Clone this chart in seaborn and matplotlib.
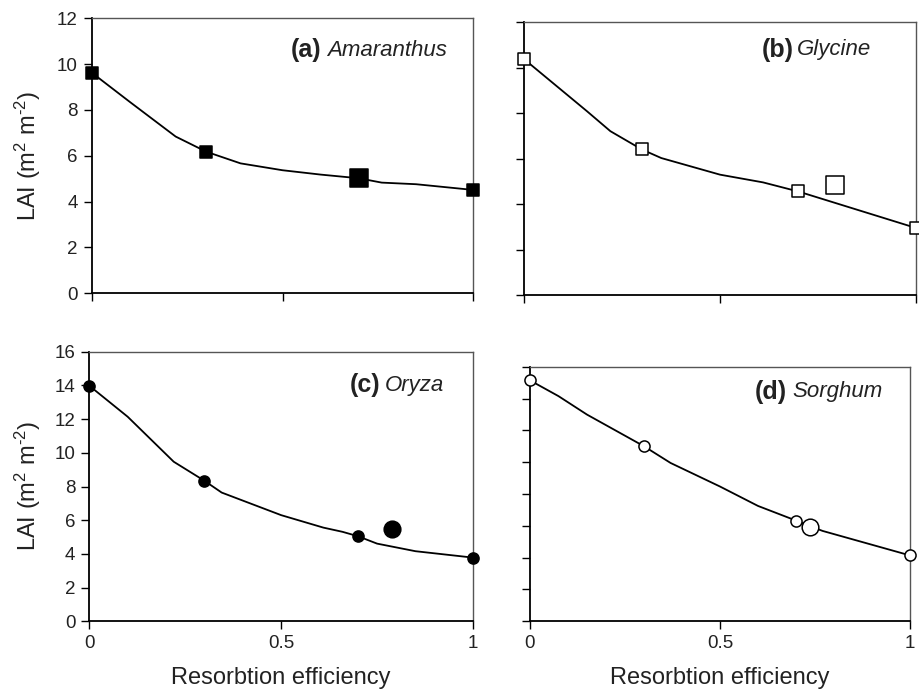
import matplotlib
matplotlib.use("Agg")
import matplotlib.pyplot as plt
import seaborn as sns

# ---------------- data ----------------
x_ticks = [0, 0.5, 1]
x_tick_labels = ["0", "0.5", "1"]

# (a) Amaranthus
a_line_x = [0, 0.1, 0.22, 0.3, 0.39, 0.5, 0.6, 0.7, 0.76, 0.85, 1.0]
a_line_y = [9.63, 8.35, 6.84, 6.18, 5.67, 5.37, 5.18, 5.02, 4.83, 4.76, 4.51]
a_pts_x = [0, 0.3, 1.0]
a_pts_y = [9.63, 6.18, 4.51]
a_obs_x = [0.7]
a_obs_y = [5.02]

# (b) Glycine
b_line_x = [0, 0.16, 0.22, 0.3, 0.35, 0.5, 0.61, 0.7, 0.85, 1.0]
b_line_y = [10.36, 8.08, 7.20, 6.40, 6.02, 5.29, 4.95, 4.55, 3.75, 2.95]
b_pts_x = [0, 0.3, 0.7, 1.0]
b_pts_y = [10.36, 6.40, 4.55, 2.95]
b_obs_x = [0.795]
b_obs_y = [4.82]

# (c) Oryza
c_line_x = [0, 0.1, 0.22, 0.3, 0.345, 0.5, 0.61, 0.66, 0.7, 0.75, 0.85, 1.0]
c_line_y = [13.98, 12.14, 9.47, 8.34, 7.64, 6.30, 5.56, 5.31, 5.05, 4.61, 4.16, 3.78]
c_pts_x = [0, 0.3, 0.7, 1.0]
c_pts_y = [13.98, 8.34, 5.05, 3.78]
c_obs_x = [0.79]
c_obs_y = [5.49]

# (d) Sorghum
d_line_x = [0, 0.075, 0.15, 0.3, 0.37, 0.5, 0.6, 0.7, 0.74, 0.77, 1.0]
d_line_y = [15.14, 14.15, 12.99, 11.0, 9.95, 8.47, 7.25, 6.33, 5.95, 5.68, 4.14]
d_pts_x = [0, 0.3, 0.7, 1.0]
d_pts_y = [15.14, 11.0, 6.33, 4.14]
d_obs_x = [0.737]
d_obs_y = [5.95]

top_yticks = [0, 2, 4, 6, 8, 10, 12]
bot_yticks = [0, 2, 4, 6, 8, 10, 12, 14, 16]

panel_letters = ["(a)", "(b)", "(c)", "(d)"]
panel_species = ["Amaranthus", "Glycine", "Oryza", "Sorghum"]
ylabel_text = "LAI (m$^{2}$ m$^{\u2010 2}$)"
xlabel_text = "Resorbtion efficiency"

# ---------------- style ----------------
sns.set_theme(style="ticks")
plt.rcParams["font.family"] = ["Liberation Sans", "DejaVu Sans"]
plt.rcParams["mathtext.fontset"] = "custom"
plt.rcParams["mathtext.rm"] = "Liberation Sans"
plt.rcParams["mathtext.it"] = "Liberation Sans:italic"
plt.rcParams["mathtext.bf"] = "Liberation Sans:bold"
plt.rcParams["mathtext.default"] = "regular"

W, H = 920, 690
fig = plt.figure(figsize=(W / 100, H / 100), dpi=100)


def ax_at(l, t, r, b):
    return fig.add_axes([l / W, 1 - b / H, (r - l) / W, (b - t) / H])


axA = ax_at(91.7, 18.3, 473.3, 293.3)
axB = ax_at(524.3, 22.0, 915.7, 295.0)
axC = ax_at(89.3, 351.7, 473.0, 621.3)
axD = ax_at(530.0, 366.7, 910.0, 621.3)

panels = [
    (axA, a_line_x, a_line_y, a_pts_x, a_pts_y, a_obs_x, a_obs_y, "s", "black", 8.5, 13, top_yticks, 12),
    (axB, b_line_x, b_line_y, b_pts_x, b_pts_y, b_obs_x, b_obs_y, "s", "white", 8, 12.5, top_yticks, 12),
    (axC, c_line_x, c_line_y, c_pts_x, c_pts_y, c_obs_x, c_obs_y, "o", "black", 8, 12, bot_yticks, 16),
    (axD, d_line_x, d_line_y, d_pts_x, d_pts_y, d_obs_x, d_obs_y, "o", "white", 8, 12, bot_yticks, 16),
]

for i, (ax, lx, ly, px, py, ox, oy, mk, fc, ms_small, ms_big, yt, ymax) in enumerate(panels):
    sns.lineplot(x=lx, y=ly, ax=ax, color="black", linewidth=1.3, sort=False,
                 estimator=None, zorder=2)
    sns.scatterplot(x=px, y=py, ax=ax, marker=mk, s=ms_small ** 2, color=fc,
                    edgecolor="black", linewidth=1.1, zorder=3, clip_on=False)
    sns.scatterplot(x=ox, y=oy, ax=ax, marker=mk, s=ms_big ** 2, color=fc,
                    edgecolor="black", linewidth=1.1, zorder=4, clip_on=False)
    ax.set_xlim(0, 1)
    ax.set_ylim(0, ymax)
    ax.set_xticks(x_ticks)
    ax.set_yticks(yt)
    ax.tick_params(axis="both", direction="out", length=6, width=1.0,
                   color="black", labelsize=13.5, pad=4, labelcolor="#222222")
    for side in ["left", "bottom"]:
        ax.spines[side].set_color("black")
        ax.spines[side].set_linewidth(1.3)
    for side in ["top", "right"]:
        ax.spines[side].set_visible(True)
        ax.spines[side].set_color("#555555")
        ax.spines[side].set_linewidth(1.0)
    ax.set_xlabel("")
    ax.set_ylabel("")
    if i < 2:
        ax.set_xticklabels([])
    else:
        ax.set_xticklabels(x_tick_labels)
    if i in (1, 3):
        ax.set_yticklabels([])
    else:
        ax.set_yticklabels([str(v) for v in yt])

# axis labels
for ax, xl in [(axA, 43), (axC, 43)]:
    ax.set_ylabel(ylabel_text, fontsize=17, color="#222222")
    bb = ax.get_position()
    ax.yaxis.set_label_coords((xl / W - bb.x0) / bb.width, 0.5)
for ax in (axC, axD):
    ax.set_xlabel(xlabel_text, fontsize=17, color="#222222")
    bb = ax.get_position()
    ax.xaxis.set_label_coords(0.5, ((1 - 667 / H) - bb.y0) / bb.height)

# panel titles: (letter end px, species start px, center y px)
title_pos = [(321, 327, 50), (794, 797, 50), (380, 385, 385), (787, 792, 392)]
for (lx, sx, cy), let, sp in zip(title_pos, panel_letters, panel_species):
    fig.text(lx / W, 1 - cy / H, let, fontsize=18, fontweight="bold",
             ha="right", va="center", color="#222222")
    fig.text(sx / W, 1 - cy / H, sp, fontsize=16, fontstyle="italic",
             ha="left", va="center", color="#222222")

fig.savefig("out.png", dpi=100)
